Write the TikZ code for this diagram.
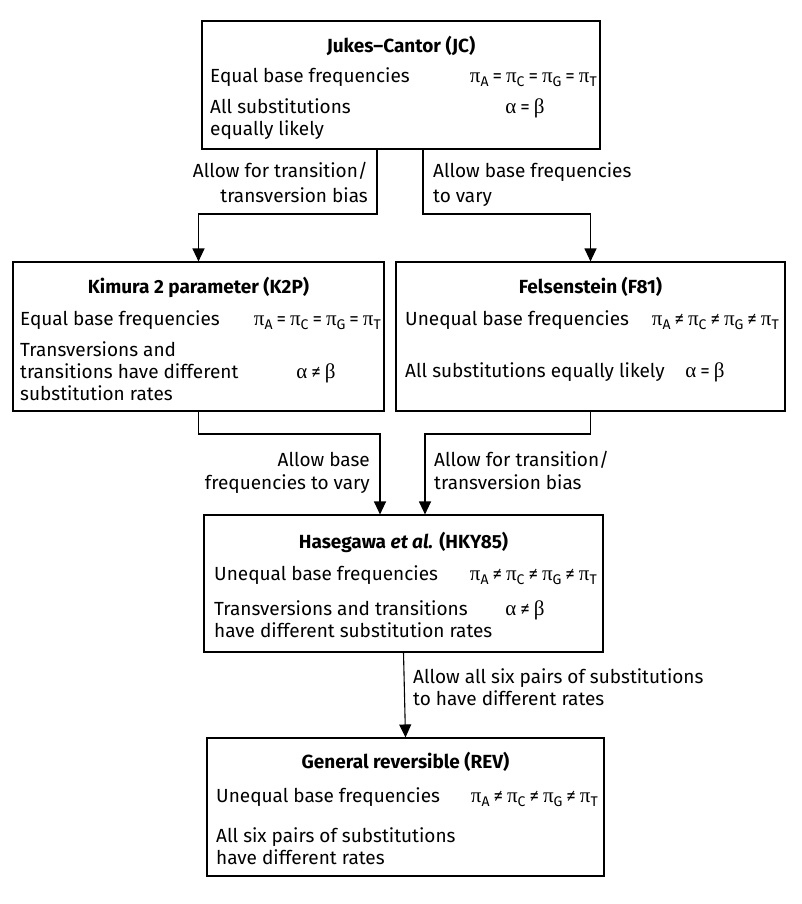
\documentclass[tikz,border=0pt]{standalone}
\usepackage{fontspec}
\setmainfont{Fira Sans}
\newfontfamily\symfont{Liberation Serif}
\usetikzlibrary{arrows.meta}

\newcommand{\grk}[1]{{\symfont\fontsize{21}{22}\selectfont #1}}
\newcommand{\pis}[1]{\grk{π}\raisebox{-4pt}{\fontsize{14}{16}\selectfont #1}}
\newcommand{\rel}[1]{\hspace{4pt}#1\hspace{4pt}}

\begin{document}
\begin{tikzpicture}[x=1pt, y=-1pt,
		modelbox/.style={draw, line width=1.1pt, inner sep=0pt},
		ttl/.style={anchor=base, inner sep=0pt, font=\fontsize{19}{22}\selectfont\bfseries},
		txt/.style={anchor=base west, inner sep=0pt, font=\fontsize{19}{22}\selectfont},
		txtr/.style={anchor=base east, inner sep=0pt, font=\fontsize{19}{22}\selectfont},
		frm/.style={anchor=base, inner sep=0pt, font=\fontsize{19}{22}\selectfont},
		arr/.style={line width=1.1pt, -{Triangle[width=12pt,length=13pt]}}]
		\fill[white] (0,0) rectangle (801,904);
		\useasboundingbox (0,0) rectangle (801,904);

		\node [modelbox, minimum width=398pt, minimum height=128pt] (jc) at (401,85) {};
		\node [modelbox, minimum width=371pt, minimum height=149pt] (k2p) at (198.5,336.5) {};
		\node [modelbox, minimum width=389pt, minimum height=149pt] (f81) at (590.5,336.5) {};
		\node [modelbox, minimum width=399pt, minimum height=137pt] (hky) at (403.5,583.5) {};
		\node [modelbox, minimum width=397pt, minimum height=138pt] (rev) at (405.5,807) {};

		\node [ttl] (jcT) at (401,53) {Jukes–Cantor (JC)};
		\node [txt] (jc1) at (210,83) {Equal base frequencies};
		\node [txtr] (jc1f) at (597,83) {\pis{A}\rel{=}\pis{C}\rel{=}\pis{G}\rel{=}\pis{T}};
		\node [txt] (jc2) at (210,114) {All substitutions};
		\node [txt] (jc3) at (210,136) {equally likely};
		\node [frm] (jc2f) at (525,114) {\grk{α}\rel{=}\grk{β}};

		\node [ttl] (k2pT) at (198.5,293) {Kimura 2 parameter (K2P)};
		\node [txt] (k2p1) at (20,325) {Equal base frequencies};
		\node [txtr] (k2p1f) at (381,325) {\pis{A}\rel{=}\pis{C}\rel{=}\pis{G}\rel{=}\pis{T}};
		\node [txt] (k2p2) at (20,356) {Transversions and};
		\node [txt] (k2p3) at (20,378) {transitions have different};
		\node [txt] (k2p4) at (20,400) {substitution rates};
		\node [frm] (k2p3f) at (316,378) {\grk{α}\rel{≠}\grk{β}};

		\node [ttl] (f81T) at (590.5,293) {Felsenstein (F81)};
		\node [txt] (f811) at (405,325) {Unequal base frequencies};
		\node [txtr] (f811f) at (779,325) {\pis{A}\rel{≠}\pis{C}\rel{≠}\pis{G}\rel{≠}\pis{T}};
		\node [txt] (f812) at (405,377) {All substitutions equally likely};
		\node [frm] (f812f) at (705,377) {\grk{α}\rel{=}\grk{β}};

		\node [ttl] (hkyT) at (403.5,548) {Hasegawa \textit{et al.} (HKY85)};
		\node [txt] (hky1) at (214,580) {Unequal base frequencies};
		\node [txtr] (hky1f) at (597,580) {\pis{A}\rel{≠}\pis{C}\rel{≠}\pis{G}\rel{≠}\pis{T}};
		\node [txt] (hky2) at (214,615) {Transversions and transitions};
		\node [txt] (hky3) at (214,637) {have different substitution rates};
		\node [frm] (hky2f) at (525,615) {\grk{α}\rel{≠}\grk{β}};

		\node [ttl] (revT) at (405.5,768) {General reversible (REV)};
		\node [txt] (rev1) at (216,802) {Unequal base frequencies};
		\node [txtr] (rev1f) at (598,802) {\pis{A}\rel{≠}\pis{C}\rel{≠}\pis{G}\rel{≠}\pis{T}};
		\node [txt] (rev2) at (216,842) {All six pairs of substitutions};
		\node [txt] (rev3) at (216,864) {have different rates};

		\coordinate (jcl) at (377,214);
		\coordinate (jcr) at (423,214);
		\coordinate (hkyl) at (380,434);
		\coordinate (hkyr) at (425,434);
		\draw [arr] (jcl |- jc.south) -- (jcl) -| (k2p.north);
		\draw [arr] (jcr |- jc.south) -- (jcr) -| (f81.north);
		\draw [arr] (k2p.south) |- (hkyl) -- (hkyl |- hky.north);
		\draw [arr] (f81.south) |- (hkyr) -- (hkyr |- hky.north);
		\draw [arr] (hky.south) -- (rev.north);

		\node [txtr] (l1a) at (368,178) {Allow for transition/};
		\node [txtr] (l1b) at (368,202) {transversion bias};
		\node [txt] (l2a) at (433,178) {Allow base frequencies};
		\node [txt] (l2b) at (433,202) {to vary};
		\node [txtr] (l3a) at (370,466) {Allow base};
		\node [txtr] (l3b) at (370,489) {frequencies to vary};
		\node [txt] (l4a) at (434,466) {Allow for transition/};
		\node [txt] (l4b) at (434,489) {transversion bias};
		\node [txt] (l5a) at (413,683) {Allow all six pairs of substitutions};
		\node [txt] (l5b) at (413,705) {to have different rates};
	\end{tikzpicture}
\end{document}
